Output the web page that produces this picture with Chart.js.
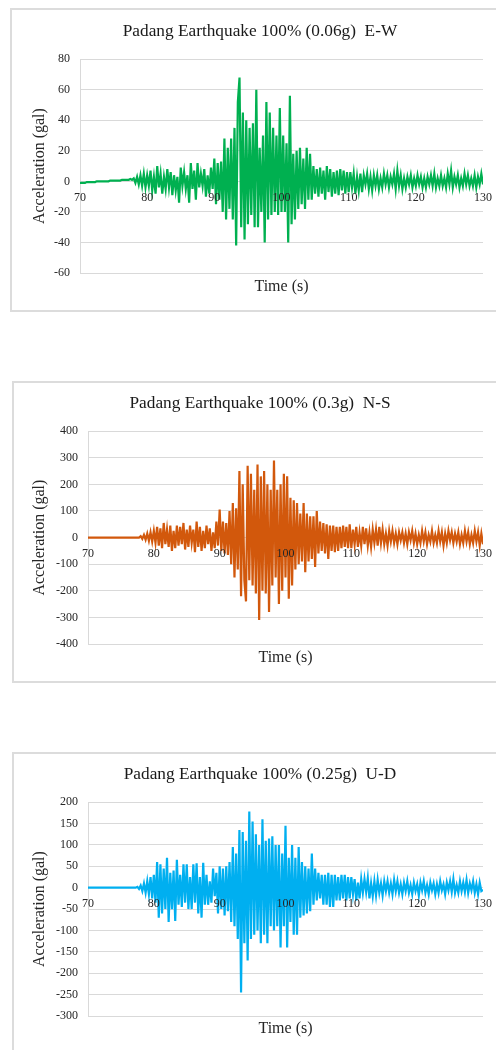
<!DOCTYPE html>
<html>
<head>
<meta charset="utf-8">
<script src="https://cdn.jsdelivr.net/npm/chart.js@4/dist/chart.umd.min.js"></script>
<style>
    body { margin: 0; background: #fff; width: 496px; height: 1050px; overflow: hidden; position: relative; }
    .frame { position: absolute; border: 2px solid #dcdcdc; box-sizing: border-box; }
    .box { position: absolute; }
</style>
</head>
<body>
<div class="frame" style="left:10px;top:8px;width:500px;height:304px"></div>
<div class="box" style="left:10px;top:8px;width:500px;height:304px"><canvas id="ewChart"></canvas></div>

<div class="frame" style="left:12px;top:381px;width:496px;height:302px"></div>
<div class="box" style="left:12px;top:381px;width:496px;height:302px"><canvas id="nsChart"></canvas></div>

<div class="frame" style="left:12px;top:752px;width:496px;height:310px"></div>
<div class="box" style="left:12px;top:752px;width:496px;height:310px"><canvas id="udChart"></canvas></div>

<script>
// time axis: samples every 0.25 s starting at 70 s
const timeStart = 70;
const timeStep = 0.25;
const timeTicks = [70, 80, 90, 100, 110, 120, 130];

// acceleration (gal), one row = 2 s
const ewAccel = [
    -1, -1, -1, -1, -0.5, -0.5, -0.5, -0.5,
    -0.5, -0.5, 0, 0, 0, 0, 0, 0,
    0, 0, 0.5, 0.5, 0.5, 0.5, 0.5, 0.5,
    0.5, 1, 1, 1, 1, 1, 1.5, 1,
    2, -1, 3, -2, 4, -3, 5, -4,
    4, -3, 7, -6, 3, -8, 10, -4,
    5, -8, 3, -5, 8, -4, 6, -9,
    4, -6, 3, -14, 9, -3, 6, -5,
    4, -14, 12, -5, 7, -12, 12, -4,
    5, -3, 8, -10, 4, -8, 9, -5,
    15, -15, 12, -12, 13, -20, 28, -25,
    22, -18, 28, -25, 35, -42, 52, 68,
    -30, 45, -38, 40, -28, 35, -22, 38,
    -30, 60, -30, 22, -20, 30, -40, 52,
    -25, 45, -22, 35, -20, 30, -22, 48,
    -20, 30, -20, 25, -40, 56, -28, 18,
    -25, 20, -18, 22, -15, 15, -18, 22,
    -12, 18, -12, 10, -8, 8, -10, 9,
    -8, 7, -12, 10, -7, 8, -10, 6,
    -8, 7, -9, 8, -6, 7, -8, 6,
    -7, 6, -4, 5, -8, 3, -6, 5,
    -7, 4, -2, 5, -5, 3, -6, 4,
    -3, 4, -5, 2, -4, 5, -2, 4,
    -4, 3, -2, 5, -5, 7, -3, 4,
    -5, 2, -4, 3, -2, 4, -4, 2,
    -3, 4, -2, 3, -4, 2, -4, 3,
    -2, 4, -3, 5, -4, 2, -3, 4,
    -3, 2, -4, 5, -2, 7, -4, 3,
    -2, 4, -4, 2, -3, 5, -2, 4,
    -3, 2, -3, 4, -4, 3, -2, 5,
    -2
];

const nsAccel = [
    0, 0, 0, 0, 0, 0, 0, 0,
    0, 0, 0, 0, 0, 0, 0, 0,
    0, 0, 0, 0, 0, 0, 0, 0,
    0, 0, 0, 0, 0, 0, 0, 0,
    5, -5, 10, -8, 15, -12, 20, -15,
    25, -20, 40, -30, 35, -40, 55, -25,
    30, -35, 45, -50, 25, -40, 45, -30,
    40, -25, 55, -45, 30, -35, 45, -20,
    30, -55, 60, -35, 40, -50, 25, -40,
    45, -25, 35, -50, 20, -40, 60, -30,
    105, -50, 60, -60, 55, -65, 100, -100,
    130, -150, 110, -120, 250, -220, 200, -160,
    -240, 270, -160, 240, -180, 180, -210, 275,
    -310, 230, -200, 250, -210, 200, -280, 180,
    -180, 290, -150, 180, -250, 200, -200, 240,
    -150, 230, -230, 150, -180, 140, -120, 130,
    -100, 90, -90, 130, -130, 90, -90, 80,
    -80, 80, -110, 100, -60, 60, -50, 55,
    -60, 50, -80, 45, -50, 45, -55, 40,
    -50, 40, -40, 45, -35, 40, -40, 50,
    -40, 30, -25, 40, -35, 20, -30, 40,
    -25, 35, -30, 20, -35, 30, -20, 30,
    -30, 40, -20, 30, -25, 15, -30, 25,
    -15, 25, -20, 15, -25, 20, -10, 20,
    -20, 15, -25, 20, -10, 25, -20, 15,
    -25, 10, -20, 25, -15, 20, -25, 10,
    -15, 25, -20, 10, -20, 25, -15, 20,
    -30, 15, -20, 25, -10, 20, -20, 15,
    -15, 20, -25, 10, -20, 25, -15, 20,
    -25, 10, -20, 25, -15, 20, -30, 15,
    -25
];

const udAccel = [
    0, 0, 0, 0, 0, 0, 0, 0,
    0, 0, 0, 0, 0, 0, 0, 0,
    0, 0, 0, 0, 0, 0, 0, 0,
    0, 0, 0, 0, 0, 0, 2, -3,
    5, -8, 10, -12, 15, -15, 25, -25,
    30, -35, 60, -70, 55, -60, 45, -50,
    70, -80, 35, -50, 40, -78, 65, -40,
    30, -45, 55, -35, 55, -50, 25, -50,
    55, -35, 57, -60, 25, -70, 58, -40,
    30, -40, 15, -35, 45, -20, 35, -60,
    50, -50, 45, -65, 50, -55, 60, -80,
    95, -90, 80, -120, 135, -245, 130, -130,
    110, -170, 178, -120, 155, -110, 125, -100,
    100, -130, 160, -110, 110, -130, 115, -90,
    120, -100, 100, -90, 100, -140, 80, -90,
    145, -140, 70, -80, 100, -110, 70, -110,
    95, -70, 60, -65, 50, -60, 45, -55,
    80, -40, 45, -30, 35, -25, 30, -40,
    30, -40, 35, -45, 30, -45, 30, -30,
    25, -30, 30, -25, 30, -30, 25, -25,
    25, -15, 20, -30, 12, -25, 20, -12,
    20, -10, 22, -25, 10, -20, 15, -18,
    18, -12, 10, -18, 15, -8, 15, -12,
    10, -15, 18, -8, 15, -12, 8, -15,
    12, -8, 15, -12, 6, -15, 12, -8,
    8, -18, 12, -6, 15, -12, 6, -15,
    12, -6, 10, -15, 8, -12, 15, -6,
    8, -15, 12, -6, 15, -10, 20, -12,
    6, -12, 15, -8, 12, -10, 18, -12,
    10, -6, 15, -12, 8, -15, 12, -8,
    -5
];

// y axis: [min, max, step]
const ewRange = [-60, 80, 20];
const nsRange = [-400, 400, 100];
const udRange = [-300, 200, 50];

Chart.defaults.font.family = "'Liberation Serif', 'Times New Roman', serif";
Chart.defaults.color = '#262626';
Chart.defaults.animation = false;

function toPoints(values) {
    return values.map((v, i) => ({ x: timeStart + i * timeStep, y: v }));
}

function makeChart(id, title, values, range, color, lay) {
    return new Chart(document.getElementById(id), {
        type: 'line',
        data: {
            datasets: [{
                data: toPoints(values),
                borderColor: color,
                borderWidth: 2.2,
                borderJoin: 'miter',
                pointRadius: 0,
                tension: 0,
                xAxisID: 'x',
                yAxisID: 'y'
            }]
        },
        options: {
            responsive: true,
            maintainAspectRatio: false,
            layout: { padding: 0 },
            plugins: {
                legend: { display: false },
                tooltip: { enabled: false },
                title: {
                    display: true,
                    text: title,
                    color: '#1a1a1a',
                    font: { size: 17.3, weight: 'normal' },
                    padding: { top: lay.titleTop, bottom: lay.titleBottom }
                }
            },
            scales: {
                x: {
                    type: 'linear',
                    position: { y: 0 },
                    min: timeTicks[0],
                    max: timeTicks[timeTicks.length - 1],
                    afterBuildTicks: s => { s.ticks = timeTicks.map(v => ({ value: v })); },
                    grid: { display: false, drawTicks: false },
                    border: { display: false },
                    ticks: { font: { size: 12 }, padding: 9, maxRotation: 0, z: 1 }
                },
                xTitle: {
                    type: 'linear',
                    position: 'bottom',
                    min: timeTicks[0],
                    max: timeTicks[timeTicks.length - 1],
                    grid: { display: false, drawTicks: false },
                    border: { display: false },
                    ticks: { display: false },
                    title: {
                        display: true,
                        text: 'Time (s)',
                        font: { size: 16 },
                        padding: { top: 0, bottom: lay.timeBottom }
                    },
                    afterFit: s => { s.height = lay.bottomBox; }
                },
                y: {
                    min: range[0],
                    max: range[1],
                    ticks: { stepSize: range[2], font: { size: 12 }, padding: 10 },
                    grid: { color: '#d9d9d9', lineWidth: 1, drawTicks: false },
                    border: { display: true, color: '#d9d9d9', width: 1 },
                    title: {
                        display: true,
                        text: 'Acceleration (gal)',
                        font: { size: 16 },
                        padding: { top: lay.yTitleTop, bottom: 0 }
                    },
                    afterFit: s => { s.width = lay.yWidth; }
                },
                // empty strip on the right so the title stays centred on the frame
                yRight: {
                    position: 'right',
                    grid: { display: false, drawTicks: false },
                    border: { display: false },
                    ticks: { display: false },
                    afterFit: s => { s.width = lay.padRight; }
                }
            }
        }
    });
}

makeChart('ewChart', 'Padang Earthquake 100% (0.06g)  E-W', ewAccel, ewRange, '#00b050',
    { padRight: 27, titleTop: 12.6, titleBottom: 17.8, bottomBox: 39, timeBottom: 15.4, yWidth: 70, yTitleTop: 20.4 });
makeChart('nsChart', 'Padang Earthquake 100% (0.3g)  N-S', nsAccel, nsRange, '#d2580c',
    { padRight: 25, titleTop: 11.6, titleBottom: 17.8, bottomBox: 39, timeBottom: 15.4, yWidth: 76, yTitleTop: 18.4 });
makeChart('udChart', 'Padang Earthquake 100% (0.25g)  U-D', udAccel, udRange, '#00aff0',
    { padRight: 25, titleTop: 11.6, titleBottom: 17.8, bottomBox: 46, timeBottom: 23.4, yWidth: 76, yTitleTop: 18.4 });
</script>
</body>
</html>
